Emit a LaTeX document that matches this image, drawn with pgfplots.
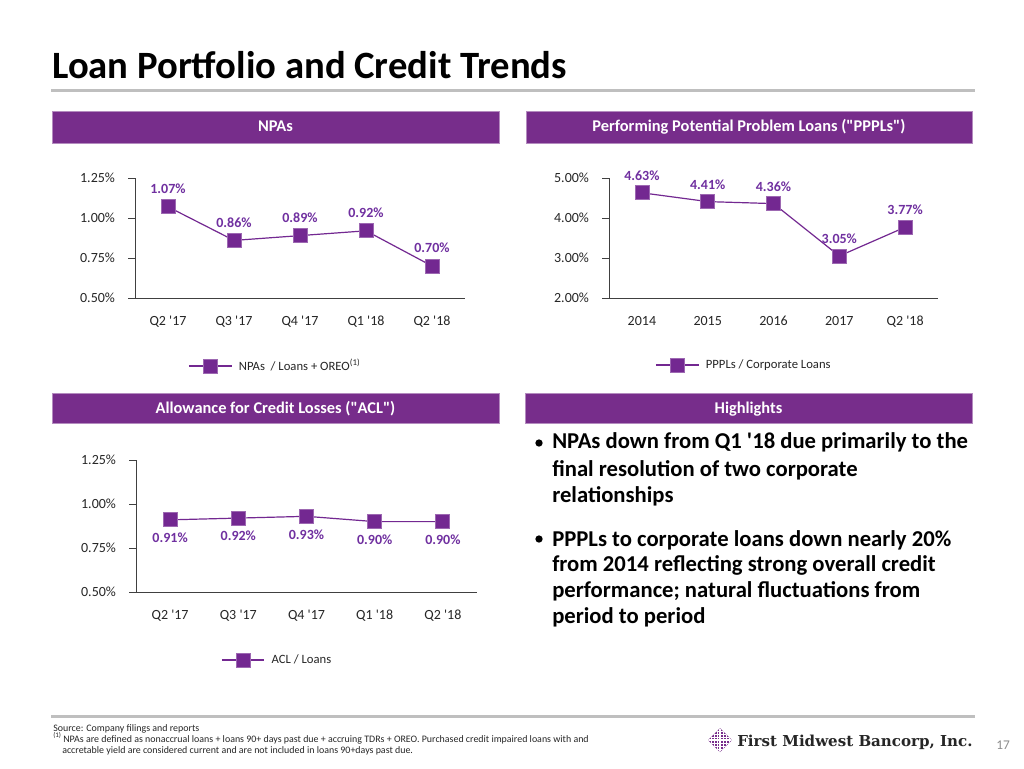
\documentclass[border=0pt]{standalone}
\usepackage{fontspec}
\setmainfont{Carlito}
\newfontfamily\logofont{DejaVu Serif}
\usepackage{pgfplots}
\pgfplotsset{compat=1.18}
\definecolor{hdr}{RGB}{119,45,139}
\definecolor{mk}{RGB}{115,40,145}
\definecolor{lbl}{RGB}{112,48,160}
\definecolor{axc}{RGB}{64,64,64}
\pgfplotsset{
  slide/.style={
    scale only axis,
    axis x line=bottom, axis y line=left,
    axis line style={axc, line width=0.75pt, -},
    xmin=-0.5, xmax=4.5,
    xtick={0,...,4},
    x tick style={draw=none},
    y tick style={axc, line width=0.75pt},
    tick align=outside,
    major tick length=5pt,
    xticklabel style={font=\fontsize{10.5}{12}\selectfont, text=black!85, anchor=base, yshift=-15.5pt},
    yticklabel style={font=\fontsize{10.5}{12}\selectfont, text=black!85, anchor=east, xshift=-6.5pt},
    yticklabel={\pgfmathprintnumber[fixed,fixed zerofill,precision=2,assume math mode=true]{\tick}\%},
    nodes near coords={\pgfmathprintnumber[fixed,fixed zerofill,precision=2,assume math mode=true]{\pgfplotspointmeta}\%},
    every node near coord/.style={font=\bfseries\fontsize{10.5}{12}\selectfont, text=lbl, anchor=center},
    legend style={draw=none, fill=none, inner sep=0pt, anchor=west, column sep=3pt, font=\fontsize{9.5}{11}\selectfont, text=black!85},
    legend image code/.code={\draw[mark repeat=2,mark phase=2,##1] plot coordinates {(0pt,0pt) (16pt,0pt) (32pt,0pt)};},
  },
  ser/.style={color=mk, line width=0.9pt, mark=square*, mark size=5.25pt,
    mark options={fill=mk, draw=mk!70!white, line width=0.6pt}},
}
\newcommand\hl[1]{\bfseries\fontsize{17}{20}\selectfont #1}
\begin{document}
\begin{tikzpicture}
\begin{scope}[x=0.75pt,y=-0.75pt]
\fill[white] (0,0) rectangle (1024,768);
\node[anchor=base west, inner sep=0pt, font=\bfseries\fontsize{29}{34}\selectfont] at (52,78) {Loan Portfolio and Credit Trends};
\fill[black!25] (51,88.5) rectangle (975,91.5);
% header boxes
\filldraw[fill=hdr, draw=hdr!55!white, line width=0.5pt] (52,111) rectangle (499,143);
\filldraw[fill=hdr, draw=hdr!55!white, line width=0.5pt] (526,111) rectangle (972,143);
\filldraw[fill=hdr, draw=hdr!55!white, line width=0.5pt] (52,393) rectangle (499,423);
\filldraw[fill=hdr, draw=hdr!55!white, line width=0.5pt] (525,393) rectangle (972,423);
\node[anchor=base, inner sep=0pt, text=white, font=\bfseries\fontsize{12.3}{14}\selectfont] at (275.5,131.7) {NPAs};
\node[anchor=base, inner sep=0pt, text=white, font=\bfseries\fontsize{12.3}{14}\selectfont] at (749,131.7) {Performing Potential Problem Loans (\textquotedbl PPPLs\textquotedbl)};
\node[anchor=base, inner sep=0pt, text=white, font=\bfseries\fontsize{12.3}{14}\selectfont] at (275.5,413.5) {Allowance for Credit Losses (\textquotedbl ACL\textquotedbl)};
\node[anchor=base, inner sep=0pt, text=white, font=\bfseries\fontsize{12.3}{14}\selectfont] at (748.5,413.5) {Highlights};
% highlights
\node[inner sep=0pt, circle, fill=black, minimum size=5.5pt] at (539,443) {};
\node[anchor=base west, inner sep=0pt] at (552,448) {\hl{NPAs down from Q1 \textquotesingle 18 due primarily to the}};
\node[anchor=base west, inner sep=0pt] at (552,476) {\hl{final resolution of two corporate}};
\node[anchor=base west, inner sep=0pt] at (552,502) {\hl{relationships}};
\node[inner sep=0pt, circle, fill=black, minimum size=5.5pt] at (539,539) {};
\node[anchor=base west, inner sep=0pt] at (552,546) {\hl{PPPLs to corporate loans down nearly 20\%}};
\node[anchor=base west, inner sep=0pt] at (552,571) {\hl{from 2014 reflecting strong overall credit}};
\node[anchor=base west, inner sep=0pt] at (552,597) {\hl{performance; natural fluctuations from}};
\node[anchor=base west, inner sep=0pt] at (552,623) {\hl{period to period}};
% footer
\fill[black!25] (51,714.5) rectangle (975,717.5);
\node[anchor=base west, inner sep=0pt, font=\fontsize{7.45}{8}\selectfont, text=black!85] at (53,731) {Source: Company filings and reports};
\node[anchor=base west, inner sep=0pt, font=\fontsize{7.45}{8}\selectfont, text=black!85] at (53,742) {\textsuperscript{(1)}\,NPAs are defined as nonaccrual loans + loans 90+ days past due + accruing TDRs + OREO. Purchased credit impaired loans with and};
\node[anchor=base west, inner sep=0pt, font=\fontsize{7.45}{8}\selectfont, text=black!85] at (62,753) {accretable yield are considered current and are not included in loans 90+days past due.};
% logo
\begin{scope}
\clip (708,740)--(720,728)--(732,740)--(720,752)--cycle;
\fill[hdr] (706,726) rectangle (734,754);
\foreach \i in {711,714,717,723,726,729} {\draw[white, line width=0.4pt] (\i,726)--(\i,754);}
\foreach \i in {731,734,737,743,746,749} {\draw[white, line width=0.4pt] (706,\i)--(734,\i);}
\draw[white, line width=1pt] (720,726)--(720,754);
\draw[white, line width=1pt] (706,740)--(734,740);
\end{scope}
\node[anchor=base west, inner sep=0pt, font=\logofont\bfseries\fontsize{11.3}{13}\selectfont, text=black!85] at (737,746) {First Midwest Bancorp, Inc.};
\node[anchor=base, inner sep=0pt, font=\fontsize{10}{12}\selectfont, text=black!45] at (1003,749) {17};
\coordinate (a1) at (135,298);
\coordinate (a2) at (609,298);
\coordinate (a3) at (136,592);
\end{scope}

\begin{axis}[slide, at={(a1)}, anchor=south west, width=247.5pt, height=90pt,
  ymin=0.5, ymax=1.25, ytick={0.5,0.75,1,1.25},
  xticklabels={Q2 \textquotesingle 17,Q3 \textquotesingle 17,Q4 \textquotesingle 17,Q1 \textquotesingle 18,Q2 \textquotesingle 18},
  every node near coord/.append style={yshift=13.5pt},
  legend style={at={(0.161,-0.567)}}]
\addplot[ser] coordinates {(0,1.07) (1,0.86) (2,0.89) (3,0.92) (4,0.70)};
\addlegendentry{NPAs\ \ / Loans + OREO\textsuperscript{(1)}}
\end{axis}

\begin{axis}[slide, at={(a2)}, anchor=south west, width=246.75pt, height=90pt,
  ymin=2, ymax=5, ytick={2,3,4,5},
  xticklabels={2014,2015,2016,2017,Q2 \textquotesingle 18},
  every node near coord/.append style={yshift=12.75pt},
  legend style={at={(0.14,-0.558)}}]
\addplot[ser] coordinates {(0,4.63) (1,4.41) (2,4.36) (3,3.05) (4,3.77)};
\addlegendentry{PPPLs / Corporate Loans}
\end{axis}

\begin{axis}[slide, at={(a3)}, anchor=south west, width=255.75pt, height=99pt,
  ymin=0.5, ymax=1.25, ytick={0.5,0.75,1,1.25},
  xticklabels={Q2 \textquotesingle 17,Q3 \textquotesingle 17,Q4 \textquotesingle 17,Q1 \textquotesingle 18,Q2 \textquotesingle 18},
  every node near coord/.append style={yshift=-13.5pt},
  legend style={at={(0.249,-0.515)}}]
\addplot[ser] coordinates {(0,0.91) (1,0.92) (2,0.93) (3,0.90) (4,0.90)};
\addlegendentry{ACL / Loans}
\end{axis}
\pgfresetboundingbox
\path[x=0.75pt,y=-0.75pt] (0,0) rectangle (1024,768);
\end{tikzpicture}
\end{document}
